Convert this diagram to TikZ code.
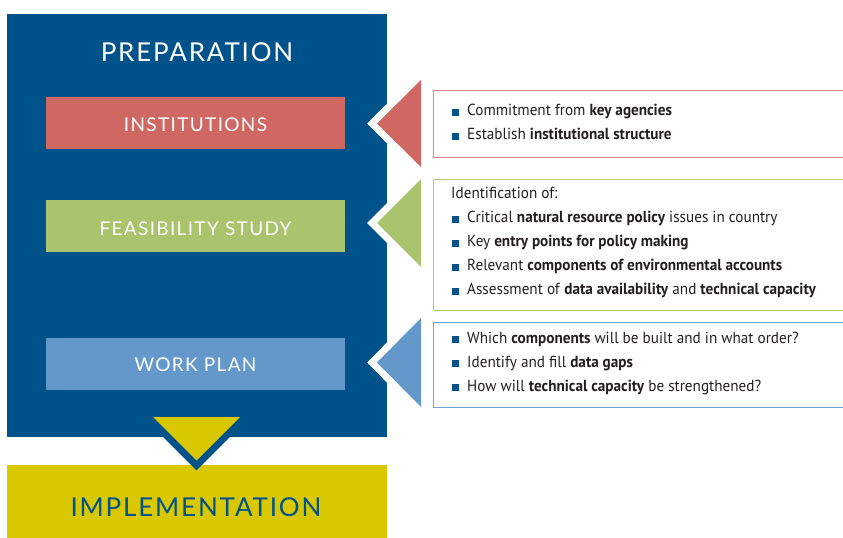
\documentclass[tikz,border=0pt]{standalone}
\usepackage{fontspec}
\setmainfont[FakeStretch=0.95]{PT Sans}
\newfontfamily\headfont[LetterSpace=7]{Lato}
\definecolor{pblue}{HTML}{00538A}
\definecolor{pred}{HTML}{CF6862}
\definecolor{pgreen}{HTML}{A9C46C}
\definecolor{plblue}{HTML}{6497CA}
\definecolor{pyellow}{HTML}{D9C700}
\definecolor{txt}{HTML}{231F20}
\newcommand{\bsq}{\textcolor{pblue}{\rule{7bp}{7bp}}\hspace{8bp}}
\tikzset{
  stage/.style={fill=#1, minimum width=299bp, minimum height=52bp, inner sep=0pt},
  stagetext/.style={inner sep=0pt, text=white, font=\headfont\fontsize{19bp}{21bp}\selectfont},
  title/.style={inner sep=0pt, font=\headfont\fontsize{26bp}{28bp}\selectfont},
  infobox/.style={draw=#1, line width=1.3bp, anchor=north west, minimum width=430bp, inner sep=0pt},
  bline/.style={anchor=base west, inner sep=0pt, text=txt, font=\fontsize{16bp}{18bp}\selectfont},
  halo/.style={white, line width=14bp, line join=miter},
}
\begin{document}
\begin{tikzpicture}[x=1bp,y=-1bp]
\useasboundingbox (0,0) rectangle (843,538);
% main blocks
\node[fill=pblue, minimum width=380bp, minimum height=423bp, anchor=north west, inner sep=0pt] (prep) at (7,14) {};
\node[fill=pyellow, minimum width=380bp, minimum height=73bp, anchor=north west, inner sep=0pt] (impl) at (7,465) {};
\node[title, text=white] (preptitle) at (197,52) {PREPARATION};
\node[title, text=pblue] (impltitle) at (196,507) {IMPLEMENTATION};
% stages
\node[stage=pred] (inst) at (195.5,123) {};
\node[stage=pgreen] (feas) at (195.5,226) {};
\node[stage=plblue] (work) at (195.5,363.5) {};
\node[stagetext] (instt) at ([yshift=-1.5bp]inst.center) {INSTITUTIONS};
\node[stagetext] (feast) at ([yshift=-2.5bp]feas.center) {FEASIBILITY STUDY};
\node[stagetext] (workt) at ([yshift=-1.5bp]work.center) {WORK PLAN};
% down pointer
\draw[pblue, line width=14bp, line join=miter] (153,417) -- (240,417) -- (196.5,460.5) -- cycle;
\fill[pyellow] (153,417) -- (240,417) -- (196.5,460.5) -- cycle;
% left pointers
\draw[halo] (421,80) -- (377,123.5) -- (421,167) -- cycle;
\draw[halo] (421,179) -- (377,223) -- (421,267) -- cycle;
\draw[halo] (421,318) -- (377,362.5) -- (421,407) -- cycle;
\fill[pred] (421,80) -- (377,123.5) -- (421,167) -- cycle;
\fill[pgreen] (421,179) -- (377,223) -- (421,267) -- cycle;
\fill[plblue] (421,318) -- (377,362.5) -- (421,407) -- cycle;
% info boxes
\node[infobox=pred!80, minimum height=67bp] (ibox) at (433,90) {};
\node[infobox=pgreen!90, minimum height=131bp] (fbox) at (433,179) {};
\node[infobox=plblue!90, minimum height=85bp] (wbox) at (433,322) {};
% texts
\node[bline] (i1) at (452,116) {\bsq Commitment from \textbf{key agencies}};
\node[bline] (i2) at (452,140) {\bsq Establish \textbf{institutional structure}};
\node[bline] (f0) at (451,199) {Identification of:};
\node[bline] (f1) at (452,223) {\bsq Critical \textbf{natural resource policy} issues in country};
\node[bline] (f2) at (452,247) {\bsq Key \textbf{entry points for policy making}};
\node[bline] (f3) at (452,271) {\bsq Relevant \textbf{components of environmental accounts}};
\node[bline] (f4) at (452,295) {\bsq Assessment of \textbf{data availability} and \textbf{technical capacity}};
\node[bline] (w1) at (452,343) {\bsq Which \textbf{components} will be built and in what order?};
\node[bline] (w2) at (452,367) {\bsq Identify and fill \textbf{data gaps}};
\node[bline] (w3) at (452,391) {\bsq How will \textbf{technical capacity} be strengthened?};
\end{tikzpicture}
\end{document}
